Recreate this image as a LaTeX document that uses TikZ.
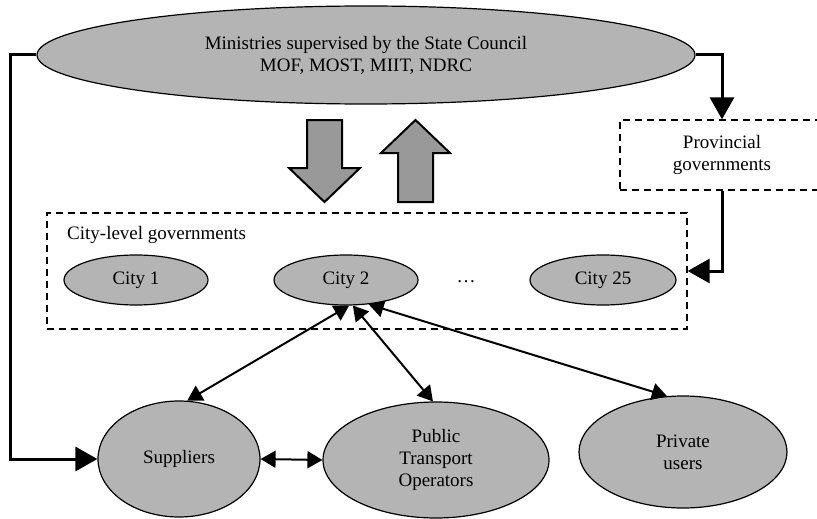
\documentclass[tikz,border=0pt]{standalone}
\usepackage{fontspec}
\setmainfont{Liberation Serif}
\usetikzlibrary{shapes.geometric,arrows.meta}
\definecolor{nodegray}{HTML}{B4B4B4}
\definecolor{blockgray}{HTML}{999999}
\begin{document}
\begin{tikzpicture}[x=1pt,y=-1pt,
  font=\fontsize{19}{22}\selectfont,
  oval/.style={ellipse,draw,line width=1.2pt,fill=nodegray,inner sep=0pt,align=center},
  dashbox/.style={draw,line width=1.3pt,dash pattern=on 7pt off 5pt,inner sep=0pt,align=center},
  heavy/.style={line width=3pt,-{Triangle[length=22pt,width=24pt]}},
  light/.style={line width=2pt,{Triangle[length=15pt,width=17pt]}-{Triangle[length=15pt,width=17pt]}},
  block/.style={draw,line width=2pt,fill=blockgray,line join=miter}
]
% page frame
\clip (0,0) rectangle (817,519);
\fill[white] (0,0) rectangle (817,519);

% top level
\node[oval,minimum width=658pt,minimum height=98pt] (min) at (366,55)
  {Ministries supervised by the State Council\\MOF, MOST, MIIT, NDRC};
\node[dashbox,minimum width=204pt,minimum height=70pt] (prov) at (722,155)
  {Provincial\\governments};

% city level
\node[dashbox,minimum width=640pt,minimum height=116pt] (cities) at (367,271) {};
\node[anchor=west,inner sep=0pt] (citylab) at (67,235) {City-level governments};
\node[oval,minimum width=144pt,minimum height=50pt] (c1) at (136,280) {City 1};
\node[oval,minimum width=144pt,minimum height=50pt] (c2) at (346,280) {City 2};
\node[inner sep=0pt] (dots) at (466,282) {\dots};
\node[oval,minimum width=146pt,minimum height=50pt] (c25) at (603,280) {City 25};

% actors
\node[oval,minimum width=162pt,minimum height=116pt] (sup) at (179,459) {Suppliers};
\node[oval,minimum width=226pt,minimum height=116pt] (pto) at (436,460)
  {Public\\Transport\\Operators};
\node[oval,minimum width=208pt,minimum height=112pt] (priv) at (683,452)
  {Private\\users};

% block arrows between ministries and cities
\draw[block] (307,120) -- (342,120) -- (342,168) -- (360,168) -- (324.5,202)
  -- (289,168) -- (307,168) -- cycle;
\draw[block] (415.5,120) -- (450,153) -- (433,153) -- (433,202) -- (398,202)
  -- (398,153) -- (381,153) -- cycle;

% connectors
\draw[heavy] (min.west) -- ++(-26,0) |- (sup.west);
\draw[heavy] (min.east) -| (prov.north);
\draw[heavy] (prov.south) |- (cities.east);
\draw[light] (c2.-83) -- (sup.82);
\draw[light] (c2.-75) -- (pto.93);
\draw[light] (c2.-47) -- (priv.106);
\draw[light] (sup.east) -- (pto.west);
\end{tikzpicture}
\end{document}
